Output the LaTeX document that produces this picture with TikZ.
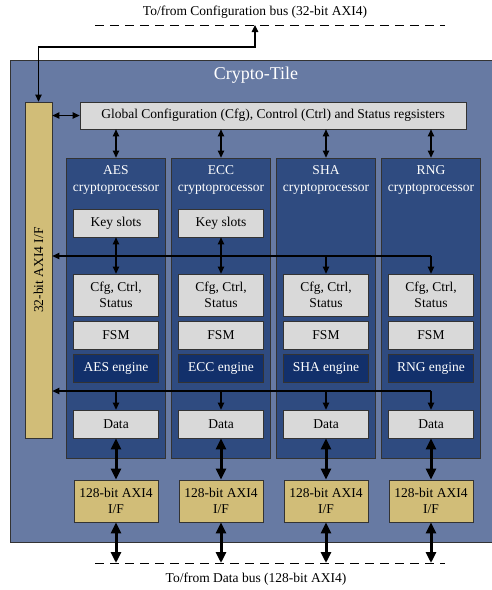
\documentclass[tikz,border=0pt]{standalone}
\usepackage{fontspec}
\setmainfont{Liberation Serif}
\usetikzlibrary{arrows.meta}

\definecolor{tileblue}{HTML}{677AA3}
\definecolor{procblue}{HTML}{2F4B80}
\definecolor{engblue}{HTML}{12306B}
\definecolor{regsgray}{HTML}{D9D9D9}
\definecolor{iftan}{HTML}{D1BD78}

\tikzset{
  thinarrow/.style={line width=1.2pt, -{Triangle[length=7pt,width=6.5pt]}},
  thinboth/.style={line width=1.2pt, {Triangle[length=7pt,width=6.5pt]}-{Triangle[length=7pt,width=6.5pt]}},
  fatboth/.style={line width=3pt, {Triangle[length=11pt,width=10pt]}-{Triangle[length=11pt,width=10pt]}},
  busline/.style={line width=0.9pt, dash pattern=on 9pt off 6pt},
}

\begin{document}
\begin{tikzpicture}[x=1pt,y=-1pt,font=\fontsize{13.5}{15.5}\selectfont]

        \useasboundingbox (0,0) rectangle (491,590);

        % bus lines outside the tile
        \node (cfgtext) at (255,12) {To/from Configuration bus (32-bit AXI4)};
        \node (datatext) at (256,579) {To/from Data bus (128-bit AXI4)};
        \draw[busline] (95,25) -- (445,25);
        \draw[busline] (95,563) -- (445,563);
        \coordinate (cfgbus) at (255,25);
        \coordinate (databus) at (0,563);

        \node[draw=black!80, line width=0.8pt, fill=tileblue, anchor=north west,
              minimum width=500, minimum height=482] (tile) at (10,60) {};
        \node[text=white, font=\fontsize{18}{20}\selectfont] (tiletitle) at (256,75) {Crypto-Tile};

        \begin{scope}[every node/.style={draw=black!80,line width=0.8pt,fill=iftan,inner sep=0pt}]
          \node[minimum width=27, minimum height=336] (bar) at (38.5,270)
            {\rotatebox{90}{32-bit AXI4 I/F}};
        \end{scope}

        \begin{scope}[every node/.style={draw=black!80,line width=0.8pt,fill=procblue,
                      minimum width=99,minimum height=300}]
          \node (aes) at (116,308) {};
          \node (ecc) at (221,308) {};
          \node (sha) at (326,308) {};
          \node (rng) at (431,308) {};
        \end{scope}

        \begin{scope}[every node/.style={text=white,align=center,font=\fontsize{13.5}{17}\selectfont}]
          \node (aestitle) at (116,180) {AES\\cryptoprocessor};
          \node (ecctitle) at (221,180) {ECC\\cryptoprocessor};
          \node (shatitle) at (326,180) {SHA\\cryptoprocessor};
          \node (rngtitle) at (431,180) {RNG\\cryptoprocessor};
        \end{scope}

        \begin{scope}[every node/.style={draw=black!80,line width=0.8pt,fill=regsgray,
                      minimum width=85,minimum height=28,inner sep=0pt,align=center}]
          \node[minimum width=386, minimum height=27] (glob) at (273,115.5)
            {Global Configuration (Cfg), Control (Ctrl) and Status regsisters};
          \node (aeskey) at (116,223) {Key slots};
          \node (ecckey) at (221,223) {Key slots};
          \node[minimum height=42] (aescfg) at (116,295) {Cfg, Ctrl,\\Status};
          \node[minimum height=42] (ecccfg) at (221,295) {Cfg, Ctrl,\\Status};
          \node[minimum height=42] (shacfg) at (326,295) {Cfg, Ctrl,\\Status};
          \node[minimum height=42] (rngcfg) at (431,295) {Cfg, Ctrl,\\Status};
          \node (aesfsm) at (116,335) {FSM};
          \node (eccfsm) at (221,335) {FSM};
          \node (shafsm) at (326,335) {FSM};
          \node (rngfsm) at (431,335) {FSM};
          \node[fill=engblue, text=white] (aeseng) at (116,368) {AES engine};
          \node[fill=engblue, text=white] (ecceng) at (221,368) {ECC engine};
          \node[fill=engblue, text=white] (shaeng) at (326,368) {SHA engine};
          \node[fill=engblue, text=white] (rngeng) at (431,368) {RNG engine};
          \node (aesdata) at (116,424) {Data};
          \node (eccdata) at (221,424) {Data};
          \node (shadata) at (326,424) {Data};
          \node (rngdata) at (431,424) {Data};
          \node[fill=iftan, minimum width=84, minimum height=42] (aesif) at (116,501) {128-bit AXI4\\I/F};
          \node[fill=iftan, minimum width=84, minimum height=42] (eccif) at (221,501) {128-bit AXI4\\I/F};
          \node[fill=iftan, minimum width=84, minimum height=42] (shaif) at (326,501) {128-bit AXI4\\I/F};
          \node[fill=iftan, minimum width=84, minimum height=42] (rngif) at (431,501) {128-bit AXI4\\I/F};
        \end{scope}

        % configuration side
        \draw[thinboth] (cfgbus) -- ++(0,22) -| (bar.north);
        \draw[thinboth] (bar.east |- glob.west) -- (glob.west);
        \draw[thinboth] (glob.south -| aes.north) -- (aes.north);
        \draw[thinboth] (glob.south -| ecc.north) -- (ecc.north);
        \draw[thinboth] (glob.south -| sha.north) -- (sha.north);
        \draw[thinboth] (glob.south -| rng.north) -- (rng.north);

        \coordinate (ctrlbus) at (431,256);
        \draw[thinarrow] (ctrlbus) -- (bar.east |- ctrlbus);
        \draw[thinarrow] (ctrlbus) -- (rngcfg.north);
        \draw[thinarrow] (shacfg.north |- ctrlbus) -- (shacfg.north);
        \draw[thinboth] (aeskey) -- (aescfg);
        \draw[thinboth] (ecckey) -- (ecccfg);

        \coordinate (dbus) at (431,391);
        \draw[thinarrow] (dbus) -- (bar.east |- dbus);
        \draw[thinarrow] (aesdata.north |- dbus) -- (aesdata.north);
        \draw[thinarrow] (eccdata.north |- dbus) -- (eccdata.north);
        \draw[thinarrow] (shadata.north |- dbus) -- (shadata.north);
        \draw[thinarrow] (dbus) -- (rngdata.north);

        % data side
        \draw[fatboth] (aesdata) -- (aesif);
        \draw[fatboth] (eccdata) -- (eccif);
        \draw[fatboth] (shadata) -- (shaif);
        \draw[fatboth] (rngdata) -- (rngif);
        \draw[fatboth] (aesif.south) -- (aesif.south |- databus);
        \draw[fatboth] (eccif.south) -- (eccif.south |- databus);
        \draw[fatboth] (shaif.south) -- (shaif.south |- databus);
        \draw[fatboth] (rngif.south) -- (rngif.south |- databus);

      \end{tikzpicture}
\end{document}
